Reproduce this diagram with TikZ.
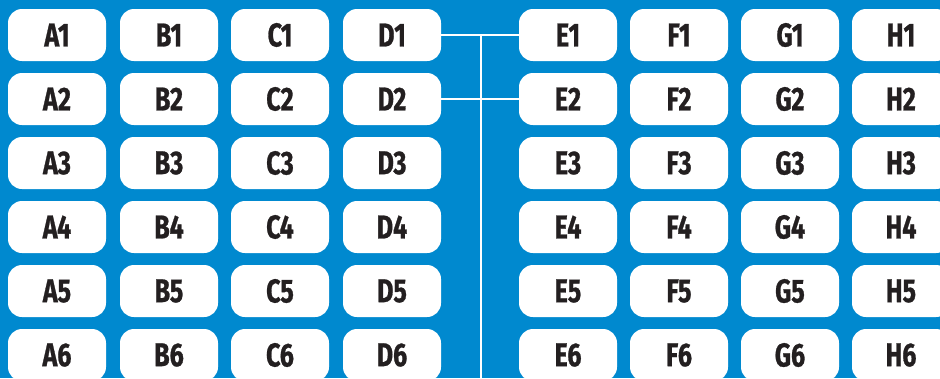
\documentclass[tikz,border=0pt]{standalone}
\usepackage{fontspec}
\setmainfont{Fira Sans}[FakeStretch=0.76, BoldFeatures={FakeBold=0.8}]
\usetikzlibrary{positioning}
\definecolor{seablue}{RGB}{0,137,207}
\definecolor{inkgrey}{RGB}{35,31,32}
\tikzset{
  cell/.style={fill=white, rounded corners=14pt, minimum width=98pt,
    minimum height=52pt, inner sep=0pt, text=inkgrey,
    font=\bfseries\fontsize{33}{33}\selectfont},
  link/.style={draw=white, line width=2.5pt}
}

\begin{document}
\begin{tikzpicture}[x=1pt,y=-1pt]
  \clip (0,0) rectangle (940,378);
  \fill[seablue] (0,0) rectangle (940,378);
  %
  \foreach \col/\x in {A/57,B/169,C/280,D/392,E/568,F/679,G/790,H/901}{
    \foreach \row in {1,...,6}{
      \node[cell] (\col\row) at (\x,{35+64*(\row-1)}) {\col\row};
    }
  }
  %
  \coordinate (spine) at (481,36);
  \coordinate (spine end) at (481,378);
  \draw[link] (D1) -- (E1);
  \draw[link] (D2) -- (E2);
  \draw[link] (spine) -- (spine end);
\end{tikzpicture}
\end{document}
